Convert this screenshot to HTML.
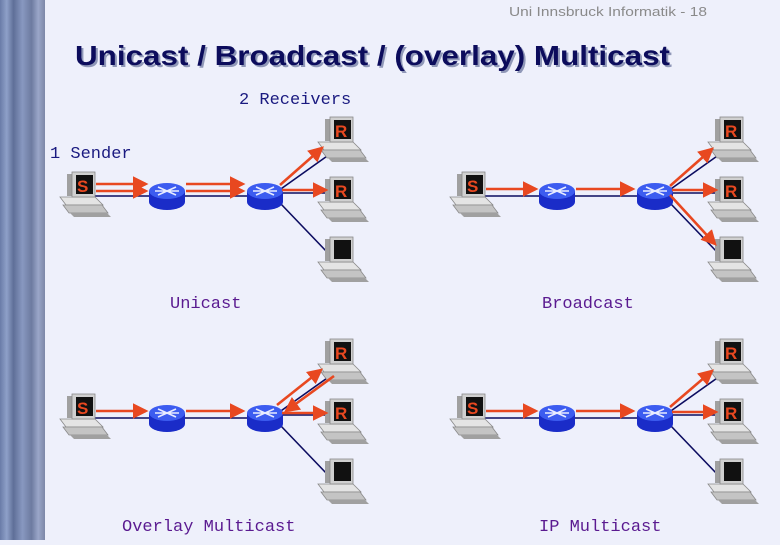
<!DOCTYPE html>
<html><head><meta charset="utf-8"><style>
html,body{margin:0;padding:0;background:#eef0fb;}
</style></head><body>
<svg width="780" height="540" viewBox="0 0 780 540" xmlns="http://www.w3.org/2000/svg">
<defs>
<linearGradient id="side" x1="0" x2="1" y1="0" y2="0">
<stop offset="0" stop-color="#6a7ca8"/><stop offset="0.15" stop-color="#8ea0c8"/><stop offset="0.3" stop-color="#5f6f98"/>
<stop offset="0.5" stop-color="#8898c0"/><stop offset="0.7" stop-color="#6d7ba0"/><stop offset="0.85" stop-color="#9aa6c8"/><stop offset="1" stop-color="#7d88a8"/>
</linearGradient>
<g id="comp">
<polygon points="-7,25 28,25 36,33 -1,33" fill="#e4e4e4" stroke="#8a8a8a" stroke-width="0.8"/>
<polygon points="-4,33 35,33 41,41 2,41" fill="#c4c4c4" stroke="#8a8a8a" stroke-width="0.8"/>
<polygon points="3,41 40,41 44,45 7,45" fill="#a0a0a0"/>
<rect x="0" y="2" width="8" height="22" fill="#a0a0a0"/>
<rect x="5" y="0" width="23" height="25" fill="#d0d0d0" stroke="#888" stroke-width="0.8"/>
<rect x="9" y="3" width="17" height="19" fill="#111"/>
</g>
<g id="router">
<path d="M-18,0 v11 a18,8 0 0 0 36,0 v-11 z" fill="#1a2cc8"/>
<ellipse cx="0" cy="0" rx="18" ry="8" fill="#3c5cf0"/>
<path d="M-9,-4 L9,4 M-9,4 L9,-4 M-12,0 H12" stroke="#e8ecff" stroke-width="1.6"/>
</g>
<marker id="ah" markerWidth="6" markerHeight="6" refX="5" refY="3" orient="auto" markerUnits="strokeWidth"><path d="M0,0 L6,3 L0,6 z" fill="#e84820"/></marker>
</defs>
<rect x="0" y="0" width="45" height="540" fill="url(#side)"/>
<text x="707" y="16" font-family="Liberation Sans, sans-serif" font-size="13" fill="#8a8a8a" text-anchor="end" textLength="198" lengthAdjust="spacingAndGlyphs">Uni Innsbruck Informatik - 18</text>
<text x="77" y="67" font-family="Liberation Sans, sans-serif" font-weight="bold" font-size="28" fill="#9098b8" textLength="595" lengthAdjust="spacingAndGlyphs">Unicast / Broadcast / (overlay) Multicast</text>
<text x="75" y="65" font-family="Liberation Sans, sans-serif" font-weight="bold" font-size="28" fill="#0c0c5c" textLength="595" lengthAdjust="spacingAndGlyphs">Unicast / Broadcast / (overlay) Multicast</text>
<g font-family="Liberation Mono, monospace" font-size="17" fill="#1a1a80">
<text x="239" y="104">2 Receivers</text>
<text x="50" y="158">1 Sender</text>
</g>
<g font-family="Liberation Mono, monospace" font-size="17" fill="#5a1a90">
<text x="170" y="308">Unicast</text>
<text x="542" y="308">Broadcast</text>
<text x="122" y="531">Overlay Multicast</text>
<text x="539" y="531">IP Multicast</text>
</g>

<g id="p1">
<g stroke="#0c0c60" stroke-width="1.6" fill="none">
<line x1="92" y1="196" x2="250" y2="196"/>
<line x1="278" y1="193" x2="330" y2="193"/>
<line x1="278" y1="191" x2="330" y2="154"/>
<line x1="280" y1="203" x2="327" y2="252"/>
</g>
<use href="#router" x="167" y="191"/>
<use href="#router" x="265" y="191"/>
<use href="#comp" x="67" y="172"/>
<use href="#comp" x="325" y="117"/>
<use href="#comp" x="325" y="177"/>
<use href="#comp" x="325" y="237"/>
<g font-family="Liberation Sans, sans-serif" font-weight="bold" font-size="17" fill="#e84820">
<text x="77" y="192">S</text><text x="335" y="137">R</text><text x="335" y="197">R</text>
</g>
</g>
<g stroke="#e84820" stroke-width="2.6" fill="none" marker-end="url(#ah)">
<line x1="96" y1="184" x2="146" y2="184"/><line x1="96" y1="191" x2="146" y2="191"/>
<line x1="186" y1="184" x2="243" y2="184"/><line x1="186" y1="191" x2="243" y2="191"/>
<line x1="280" y1="185" x2="322" y2="148"/>
<line x1="282" y1="190" x2="326" y2="190"/>
</g>

<use href="#p1" x="390" y="0"/>
<g stroke="#e84820" stroke-width="2.6" fill="none" marker-end="url(#ah)">
<line x1="486" y1="189" x2="536" y2="189"/>
<line x1="576" y1="189" x2="633" y2="189"/>
<line x1="670" y1="186" x2="712" y2="149"/>
<line x1="672" y1="190" x2="716" y2="190"/>
<line x1="670" y1="195" x2="715" y2="244"/>
</g>

<use href="#p1" x="0" y="222"/>
<g stroke="#e84820" stroke-width="2.6" fill="none" marker-end="url(#ah)">
<line x1="96" y1="411" x2="146" y2="411"/>
<line x1="186" y1="411" x2="243" y2="411"/>
<line x1="277" y1="405" x2="321" y2="370"/>
<line x1="334" y1="376" x2="286" y2="411"/>
<line x1="282" y1="413" x2="326" y2="413"/>
</g>

<use href="#p1" x="390" y="222"/>
<g stroke="#e84820" stroke-width="2.6" fill="none" marker-end="url(#ah)">
<line x1="486" y1="411" x2="536" y2="411"/>
<line x1="576" y1="411" x2="633" y2="411"/>
<line x1="670" y1="407" x2="712" y2="371"/>
<line x1="672" y1="412" x2="716" y2="412"/>
</g>
</svg>
</body></html>
